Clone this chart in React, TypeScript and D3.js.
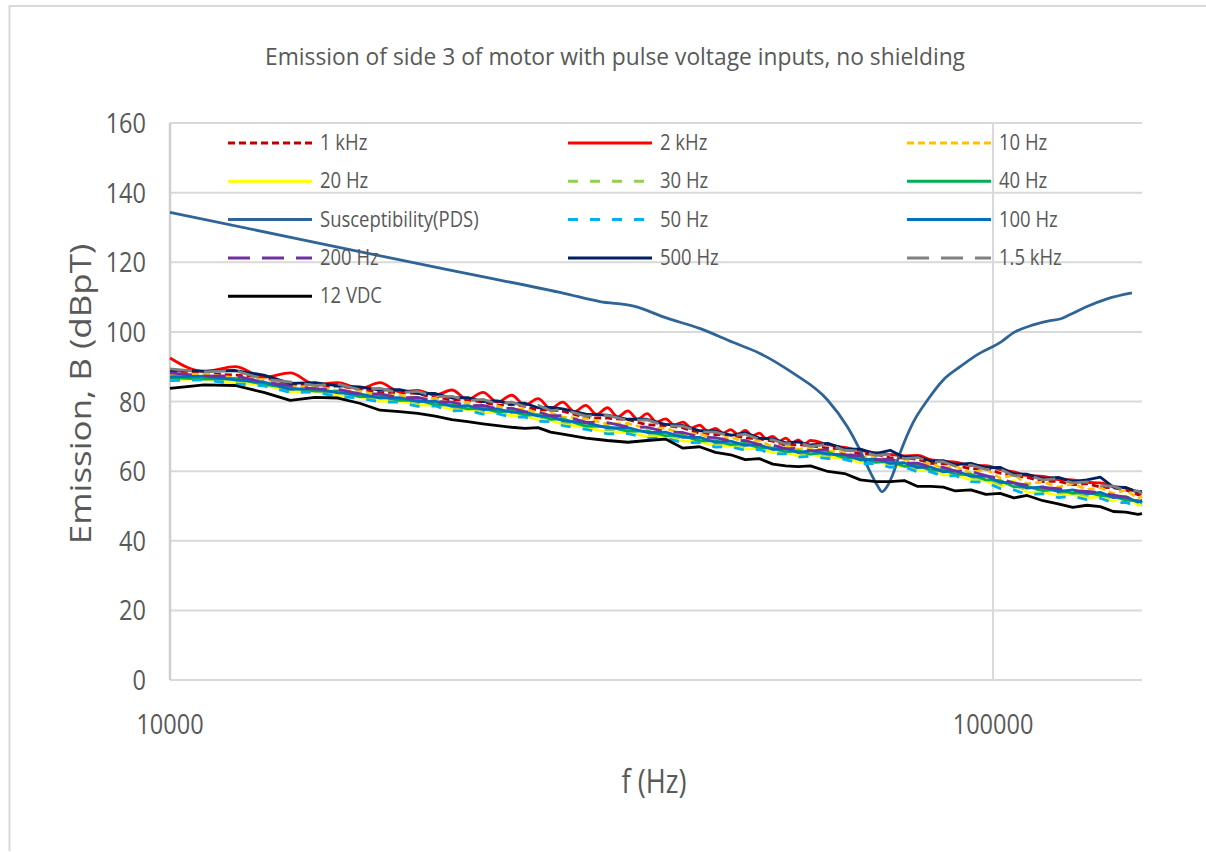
import React from 'react';
import * as d3 from 'd3';

// shared frequency grid (kHz) for the measured emission traces
const freqKHz = [10, 11, 12, 13, 14, 15, 16, 17, 18, 19, 20, 21, 22, 23, 24, 25, 26, 27, 28, 29, 30, 32, 34, 36, 38, 40, 42, 44, 46, 48, 50, 52, 54, 56, 58, 60, 63, 66, 69, 72, 75, 78, 81, 84, 87, 90, 94, 98, 102, 106, 110, 115, 120, 125, 130, 135, 140, 145, 150, 151.7];

const emission1kHz = [88.9, 88.0, 87.6, 87.0, 85.1, 84.2, 84.5, 83.6, 82.5, 82.6, 82.3, 81.0, 80.4, 80.5, 79.8, 78.9, 79.2, 78.6, 77.5, 77.6, 77.2, 75.4, 75.2, 74.8, 73.3, 73.1, 72.4, 70.9, 70.5, 70.4, 69.5, 69.3, 68.6, 67.4, 67.6, 67.3, 66.6, 66.4, 64.9, 64.9, 63.8, 63.8, 63.4, 62.2, 62.1, 61.8, 60.6, 60.8, 59.4, 58.7, 58.2, 57.0, 57.1, 56.1, 56.4, 55.4, 55.2, 54.6, 53.2, 53.5];
const emission10Hz = [87.8, 87.9, 86.8, 86.3, 84.1, 84.4, 83.1, 82.9, 81.8, 81.9, 80.8, 80.9, 79.4, 79.6, 78.5, 78.7, 77.6, 77.9, 76.6, 76.8, 75.5, 75.1, 73.5, 73.7, 72.2, 72.3, 70.7, 70.7, 69.2, 69.8, 68.4, 68.7, 67.0, 67.4, 66.2, 66.9, 65.7, 65.6, 63.9, 64.5, 62.9, 63.5, 61.9, 62.3, 60.7, 61.4, 59.4, 60.6, 58.0, 58.9, 56.3, 56.9, 55.4, 56.4, 54.7, 55.2, 53.5, 54.6, 52.2, 52.7];
const emission20Hz = [86.3, 86.5, 85.4, 84.9, 82.8, 83.0, 81.7, 81.3, 80.1, 80.2, 79.0, 79.0, 77.7, 77.8, 76.8, 76.9, 75.9, 75.9, 74.7, 74.6, 73.5, 72.6, 71.2, 71.2, 69.9, 69.9, 68.7, 68.5, 67.3, 67.4, 66.4, 66.5, 65.3, 65.4, 64.4, 64.8, 64.0, 63.8, 62.4, 63.4, 61.4, 61.5, 60.2, 60.8, 58.9, 59.0, 57.5, 57.2, 55.5, 57.3, 53.9, 54.0, 53.0, 53.3, 52.3, 52.7, 51.4, 52.9, 50.2, 50.6];
const emission30Hz = [87.3, 86.4, 86.0, 85.3, 83.3, 83.4, 82.2, 81.7, 80.8, 80.6, 79.6, 79.5, 78.2, 78.3, 77.4, 77.4, 76.5, 76.4, 75.4, 75.3, 74.1, 73.3, 71.9, 71.9, 70.6, 70.6, 69.3, 69.2, 67.9, 68.0, 67.0, 67.1, 65.9, 65.9, 64.9, 65.3, 64.5, 64.3, 62.9, 63.0, 61.9, 62.0, 60.7, 60.7, 59.5, 59.6, 58.1, 57.9, 56.3, 55.9, 54.6, 54.8, 53.7, 54.0, 53.0, 53.3, 52.1, 52.0, 50.8, 51.1];
const emission40Hz = [86.9, 86.4, 86.6, 84.9, 83.9, 83.0, 82.9, 81.4, 81.5, 80.3, 80.4, 79.1, 79.0, 77.9, 78.1, 77.0, 77.3, 76.1, 76.2, 74.9, 75.0, 72.9, 72.8, 71.5, 71.5, 70.2, 70.2, 68.7, 68.7, 67.6, 68.0, 66.7, 66.7, 65.5, 65.8, 64.9, 65.4, 63.8, 63.8, 62.5, 62.8, 61.4, 61.7, 60.2, 60.4, 59.1, 59.1, 57.5, 57.3, 55.5, 55.6, 54.4, 54.7, 53.6, 53.9, 53.0, 52.9, 51.6, 51.6, 50.8];
const emission50Hz = [86.0, 86.2, 85.1, 84.5, 82.6, 82.7, 81.4, 81.0, 79.9, 79.8, 78.6, 78.7, 77.3, 77.4, 76.4, 76.5, 75.5, 75.5, 74.3, 74.2, 73.1, 72.0, 70.7, 70.8, 69.4, 69.5, 68.2, 68.2, 66.9, 67.0, 66.0, 66.2, 64.9, 65.0, 64.0, 64.3, 63.6, 63.4, 62.1, 62.2, 61.1, 61.2, 59.8, 59.8, 58.5, 58.7, 57.0, 56.8, 55.0, 54.6, 53.3, 53.5, 52.4, 52.8, 51.8, 52.2, 50.9, 51.0, 49.8, 50.1];
const emission100Hz = [87.1, 87.3, 86.2, 85.6, 83.5, 83.7, 82.5, 82.2, 81.0, 81.1, 80.0, 80.1, 78.6, 78.8, 77.7, 77.9, 76.9, 77.0, 75.8, 75.8, 74.5, 73.9, 72.4, 72.5, 71.1, 71.2, 69.7, 69.7, 68.3, 68.6, 67.4, 67.6, 66.2, 66.5, 65.3, 65.9, 64.9, 64.7, 63.2, 63.5, 62.2, 62.4, 61.0, 61.2, 59.8, 60.1, 58.5, 58.6, 56.8, 56.6, 55.1, 55.5, 54.1, 54.6, 53.5, 53.9, 52.4, 52.6, 51.1, 51.6];
const emission200Hz = [88.2, 87.3, 87.4, 85.5, 84.6, 83.6, 83.5, 82.2, 82.2, 81.1, 81.2, 80.0, 79.8, 78.8, 78.9, 77.9, 78.1, 77.0, 77.0, 75.9, 75.9, 74.1, 73.9, 72.7, 72.6, 71.3, 71.1, 69.8, 69.6, 68.6, 68.8, 67.6, 67.5, 66.4, 66.6, 65.8, 66.2, 64.7, 64.4, 63.3, 63.4, 62.3, 62.3, 61.1, 61.1, 60.0, 59.9, 58.7, 57.8, 56.6, 56.0, 55.3, 55.0, 54.4, 54.2, 53.8, 53.1, 52.5, 51.7, 51.5];
const emission500Hz = [89.0, 88.7, 88.9, 87.6, 85.2, 85.4, 84.5, 84.2, 83.3, 83.4, 82.3, 82.3, 81.0, 81.1, 80.0, 80.2, 79.3, 79.5, 78.2, 78.3, 77.9, 76.4, 76.1, 74.9, 74.9, 73.4, 73.1, 71.6, 71.5, 70.3, 71.0, 69.5, 69.2, 68.1, 68.4, 67.5, 68.0, 66.4, 66.3, 65.0, 66.0, 64.0, 64.1, 62.9, 63.0, 61.9, 62.2, 61.0, 61.1, 59.2, 59.1, 57.9, 58.2, 57.0, 57.5, 58.3, 55.4, 55.3, 54.0, 54.2];
const emission1500Hz = [89.4, 88.5, 88.9, 86.4, 85.6, 84.6, 85.0, 83.4, 83.8, 82.5, 82.9, 81.4, 81.5, 80.2, 80.6, 79.3, 79.8, 78.5, 78.9, 77.4, 77.7, 75.8, 76.0, 74.6, 74.7, 73.0, 72.9, 71.3, 71.2, 70.0, 70.6, 69.1, 69.0, 67.8, 68.2, 67.1, 67.7, 66.0, 65.8, 64.5, 64.8, 63.6, 63.9, 62.6, 62.7, 61.4, 61.7, 60.5, 60.6, 58.7, 58.8, 57.5, 57.8, 56.6, 56.9, 55.8, 55.7, 54.3, 54.3, 53.6];
const emission12VDC = [83.8, 84.8, 84.6, 82.6, 80.3, 81.2, 81.0, 79.5, 77.5, 77.1, 76.6, 75.8, 74.8, 74.2, 73.6, 73.1, 72.6, 72.3, 72.5, 71.2, 70.6, 69.5, 68.8, 68.3, 68.8, 69.2, 66.6, 67.0, 65.4, 64.7, 63.3, 63.6, 62.0, 61.5, 61.3, 61.5, 59.9, 59.3, 57.5, 57.0, 57.0, 57.3, 55.6, 55.6, 55.4, 54.3, 54.6, 53.3, 53.6, 52.3, 53.0, 51.5, 50.6, 49.6, 50.2, 49.8, 48.4, 48.2, 47.6, 47.8];

// 2 kHz trace: finer grid so the harmonic ripple shows
const redFreqKHz = [10, 11, 12, 13, 14, 15, 16, 17, 18, 19, 20, 21, 22, 23, 24, 25, 26, 27, 28, 29, 30, 31, 32, 33, 34, 35, 36, 37, 38, 39, 40, 41, 42, 43, 44, 45, 46, 47, 48, 49, 50, 51, 52, 53, 54, 55, 56, 57, 58, 59, 60, 63, 66, 69, 72, 75, 78, 81, 84, 87, 90, 94, 98, 102, 106, 110, 115, 120, 125, 130, 135, 140, 145, 150, 151.7];
const emission2kHz = [92.5, 88.6, 90.0, 87.0, 88.2, 84.9, 85.4, 83.7, 85.4, 82.8, 83.2, 81.8, 83.3, 80.6, 82.6, 79.8, 81.8, 79.0, 80.8, 78.0, 79.8, 77.1, 78.9, 76.3, 78.2, 75.6, 77.3, 74.9, 76.5, 74.1, 75.0, 73.3, 74.1, 72.4, 73.2, 71.5, 72.3, 70.9, 71.9, 70.6, 71.7, 70.1, 70.9, 69.3, 70.0, 68.6, 69.5, 68.1, 69.0, 67.8, 68.8, 67.6, 66.8, 65.9, 65.3, 64.8, 64.4, 64.5, 63.3, 62.8, 62.6, 61.6, 61.6, 60.4, 59.8, 58.7, 58.5, 57.6, 57.5, 56.8, 56.6, 55.6, 55.2, 54.0, 54.2];

// susceptibility limit curve
const suscFreqKHz = [10, 14.4, 18.9, 23.8, 30.2, 33.3, 36.6, 40.1, 44.0, 48.3, 52.1, 57.1, 62.9, 66.5, 68.9, 71.0, 72.3, 73.3, 74.3, 75.5, 77.1, 79.9, 83.3, 87.0, 91.2, 95.6, 102.4, 105.8, 111.9, 117.3, 120.6, 124.1, 130.1, 137.6, 147.5];
const suscValues = [134.3, 126.6, 120.8, 116.0, 111.0, 108.7, 107.4, 104.0, 101.0, 97.0, 93.8, 88.2, 80.5, 72.8, 66.1, 59.5, 56.0, 54.1, 55.5, 58.9, 65.2, 73.8, 80.5, 86.2, 90.0, 93.4, 97.2, 99.7, 102.0, 103.2, 103.7, 105.0, 107.3, 109.5, 111.2];

const yTicks = [0, 20, 40, 60, 80, 100, 120, 140, 160];
const xTicks = [10000, 100000];

const FONT = "'Open Sans', 'DejaVu Sans', sans-serif";
const TEXT = '#595959';
const GRID = '#d9d9d9';

type Series = {
  name: string;
  color: string;
  dash?: string;
  freqs: number[];
  values: number[];
  smooth?: boolean;
};

const series: Series[] = [
  { name: '1 kHz', color: '#C00000', dash: '7,4', freqs: freqKHz, values: emission1kHz },
  { name: '2 kHz', color: '#FF0000', freqs: redFreqKHz, values: emission2kHz, smooth: true },
  { name: '10 Hz', color: '#FFC000', dash: '7,4', freqs: freqKHz, values: emission10Hz },
  { name: '20 Hz', color: '#FFFF00', freqs: freqKHz, values: emission20Hz },
  { name: '30 Hz', color: '#92D050', dash: '10,12', freqs: freqKHz, values: emission30Hz },
  { name: '40 Hz', color: '#00B050', freqs: freqKHz, values: emission40Hz },
  { name: 'Susceptibility(PDS)', color: '#2F6497', freqs: suscFreqKHz, values: suscValues, smooth: true },
  { name: '50 Hz', color: '#00B0F0', dash: '10,12', freqs: freqKHz, values: emission50Hz },
  { name: '100 Hz', color: '#0070C0', freqs: freqKHz, values: emission100Hz },
  { name: '200 Hz', color: '#7030A0', dash: '22,12', freqs: freqKHz, values: emission200Hz },
  { name: '500 Hz', color: '#002060', freqs: freqKHz, values: emission500Hz },
  { name: '1.5 kHz', color: '#808080', dash: '22,12', freqs: freqKHz, values: emission1500Hz },
  { name: '12 VDC', color: '#000000', freqs: freqKHz, values: emission12VDC },
];

// text squeezed horizontally like the source picture
function Label(props: { x: number; y: number; size: number; anchor?: string; sx?: number; children: React.ReactNode }) {
  const { x, y, size, anchor = 'start', sx = 0.86, children } = props;
  return (
    <text transform={`translate(${x},${y}) scale(${sx},1)`} fontSize={size} textAnchor={anchor as any}
      fill={TEXT} fontFamily={FONT}>
      {children}
    </text>
  );
}

export default function App() {
  const W = 1206, H = 852;
  const left = 170, right = 1142, top = 123, bottom = 680;

  const x = d3.scaleLog().domain([10000, 151700]).range([left, right]);
  const y = d3.scaleLinear().domain([0, 160]).range([bottom, top]);

  const makeLine = (s: Series) => {
    const pts: [number, number][] = s.freqs.map((f, i) => [f * 1000, s.values[i]]);
    return d3.line<[number, number]>()
      .x(d => x(d[0]))
      .y(d => y(d[1]))
      .curve(s.smooth ? d3.curveMonotoneX : d3.curveLinear)(pts);
  };

  const legendCols = [228, 568, 907];
  const legendRow0 = 143, legendStep = 38.3, sampleLen = 84;

  return (
    <svg width={W} height={H} style={{ position: 'absolute', left: 0, top: 0, display: 'block', background: '#fff' }}>
      <rect x={0} y={0} width={W} height={H} fill="#fff" />
      {/* chart frame */}
      <path d={`M${W},6 H9.5 V851`} fill="none" stroke="#d9d9d9" strokeWidth={2} />

      <text x={615} y={65} textAnchor="middle" fontSize={24} fill={TEXT} fontFamily={FONT}
        textLength={700} lengthAdjust="spacingAndGlyphs">
        Emission of side 3 of motor with pulse voltage inputs, no shielding
      </text>

      {/* gridlines */}
      {yTicks.map(t => (
        <line key={'gy' + t} x1={left} x2={right} y1={y(t)} y2={y(t)} stroke={GRID} strokeWidth={2} />
      ))}
      {xTicks.slice(1).map(t => (
        <line key={'gx' + t} x1={x(t)} x2={x(t)} y1={top} y2={bottom} stroke={GRID} strokeWidth={2} />
      ))}
      <line x1={left} x2={left} y1={top} y2={bottom} stroke="#cfcfcf" strokeWidth={2.5} />

      {/* data */}
      {series.map(s => (
        <path key={s.name} d={makeLine(s) || ''} fill="none" stroke={s.color} strokeWidth={2.8}
          strokeDasharray={s.dash} strokeLinejoin="round" />
      ))}

      {/* legend */}
      {series.map((s, i) => {
        const cx = legendCols[i % 3];
        const cy = legendRow0 + Math.floor(i / 3) * legendStep;
        return (
          <g key={'lg' + s.name}>
            <line x1={cx} x2={cx + sampleLen} y1={cy} y2={cy} stroke={s.color} strokeWidth={3}
              strokeDasharray={s.dash} />
            <Label x={cx + 92} y={cy + 7} size={21} sx={0.88}>{s.name}</Label>
          </g>
        );
      })}

      {/* axis labels */}
      {yTicks.map(t => (
        <Label key={'yl' + t} x={146} y={y(t) + 10} size={28} anchor="end" sx={0.84}>{t}</Label>
      ))}
      {xTicks.map(t => (
        <Label key={'xl' + t} x={x(t)} y={734} size={28} anchor="middle" sx={0.84}>{t}</Label>
      ))}
      <Label x={654} y={793} size={32} anchor="middle" sx={0.85}>f (Hz)</Label>
      <text transform="translate(80,394) rotate(-90) scale(1,0.85)" fontSize={35} textAnchor="middle"
        dominantBaseline="central" fill={TEXT} fontFamily={FONT}>
        Emission, B (dBpT)
      </text>
    </svg>
  );
}
